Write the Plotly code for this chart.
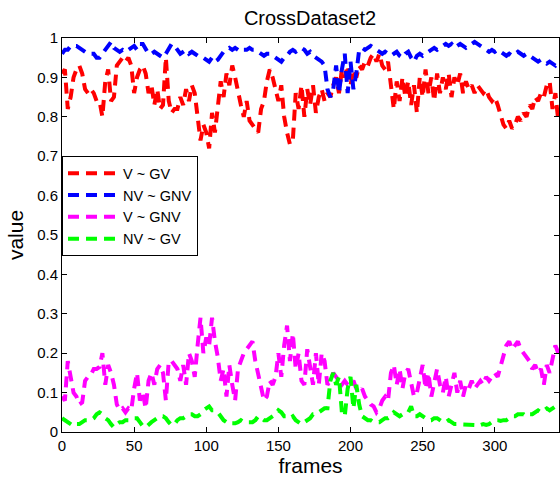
import plotly.graph_objects as go

# frame index (every second frame)
frames = list(range(0, 345, 2))

v_gv = [
    0.91, 0.92, 0.82, 0.85, 0.90, 0.92, 0.93, 0.91, 0.87, 0.86,
    0.87, 0.86, 0.84, 0.84, 0.80, 0.89, 0.92, 0.84, 0.85, 0.93,
    0.94, 0.95, 0.94, 0.95, 0.93, 0.86, 0.90, 0.92, 0.93, 0.91,
    0.86, 0.88, 0.83, 0.87, 0.82, 0.83, 0.95, 0.84, 0.81, 0.82,
    0.82, 0.85, 0.83, 0.87, 0.84, 0.88, 0.86, 0.80, 0.74, 0.78,
    0.76, 0.72, 0.81, 0.76, 0.83, 0.89, 0.85, 0.91, 0.88, 0.93,
    0.90, 0.86, 0.83, 0.80, 0.84, 0.79, 0.78, 0.77, 0.76, 0.82,
    0.84, 0.89, 0.92, 0.90, 0.87, 0.84, 0.88, 0.80, 0.76, 0.73,
    0.74, 0.86, 0.82, 0.88, 0.80, 0.87, 0.83, 0.88, 0.81, 0.85,
    0.87, 0.84, 0.86, 0.85, 0.88, 0.90, 0.86, 0.92, 0.90, 0.93,
    0.88, 0.92, 0.90, 0.93, 0.92, 0.94, 0.93, 0.95, 0.96, 0.94,
    0.96, 0.93, 0.92, 0.94, 0.88, 0.82, 0.89, 0.84, 0.90, 0.85,
    0.89, 0.83, 0.88, 0.81, 0.90, 0.85, 0.92, 0.86, 0.90, 0.84,
    0.91, 0.86, 0.90, 0.87, 0.91, 0.85, 0.90, 0.88, 0.91, 0.86,
    0.89, 0.87, 0.88, 0.86, 0.88, 0.87, 0.86, 0.87, 0.85, 0.84,
    0.85, 0.83, 0.80, 0.78, 0.77, 0.79, 0.77, 0.78, 0.80, 0.79,
    0.81, 0.80, 0.83, 0.82, 0.85, 0.84, 0.86, 0.85, 0.88, 0.89,
    0.82, 0.86, 0.79,
]

nv_gnv = [
    0.96, 0.97, 0.97, 0.98, 0.98, 0.98, 0.975, 0.97, 0.965, 0.96,
    0.96, 0.96, 0.95, 0.95, 0.96, 0.97, 0.98, 0.99, 0.975, 0.97,
    0.965, 0.97, 0.965, 0.97, 0.975, 0.98, 0.97, 0.985, 0.985, 0.97,
    0.96, 0.96, 0.965, 0.96, 0.955, 0.95, 0.96, 0.975, 0.985, 0.98,
    0.97, 0.96, 0.965, 0.97, 0.96, 0.965, 0.96, 0.955, 0.955, 0.95,
    0.945, 0.94, 0.95, 0.94, 0.945, 0.955, 0.965, 0.97, 0.975, 0.97,
    0.975, 0.97, 0.965, 0.97, 0.97, 0.975, 0.97, 0.97, 0.965, 0.96,
    0.955, 0.96, 0.96, 0.955, 0.95, 0.945, 0.94, 0.95, 0.955, 0.965,
    0.97, 0.965, 0.97, 0.975, 0.97, 0.96, 0.965, 0.955, 0.95, 0.945,
    0.94, 0.93, 0.87, 0.85, 0.87, 0.93, 0.86, 0.92, 0.96, 0.86,
    0.94, 0.87, 0.91, 0.97, 0.975, 0.97, 0.975, 0.98, 0.975, 0.97,
    0.965, 0.96, 0.965, 0.96, 0.955, 0.96, 0.965, 0.955, 0.95, 0.96,
    0.965, 0.95, 0.94, 0.955, 0.96, 0.955, 0.96, 0.965, 0.97, 0.975,
    0.97, 0.975, 0.98, 0.985, 0.98, 0.985, 0.975, 0.98, 0.985, 0.98,
    0.975, 0.98, 0.985, 0.99, 0.985, 0.98, 0.975, 0.97, 0.965, 0.97,
    0.965, 0.97, 0.965, 0.96, 0.955, 0.96, 0.955, 0.96, 0.965, 0.96,
    0.955, 0.96, 0.955, 0.95, 0.945, 0.94, 0.945, 0.94, 0.935, 0.94,
    0.935, 0.93, 0.94,
]

v_gnv = [
    0.09, 0.08, 0.18, 0.14, 0.10, 0.09, 0.07, 0.075, 0.13, 0.14,
    0.145, 0.16, 0.16, 0.165, 0.20, 0.12, 0.17, 0.15, 0.12, 0.07,
    0.055, 0.06, 0.05, 0.06, 0.055, 0.11, 0.15, 0.08, 0.10, 0.06,
    0.13, 0.15, 0.12, 0.16, 0.17, 0.15, 0.08, 0.18, 0.18, 0.17,
    0.16, 0.13, 0.17, 0.12, 0.20, 0.18, 0.14, 0.22, 0.29, 0.20,
    0.24, 0.22, 0.29, 0.23, 0.19, 0.13, 0.16, 0.09, 0.17, 0.12,
    0.08, 0.16, 0.18, 0.20, 0.21, 0.22, 0.23, 0.18, 0.15, 0.12,
    0.08, 0.09, 0.13, 0.12, 0.14, 0.20, 0.14, 0.22, 0.27, 0.18,
    0.25, 0.16, 0.20, 0.13, 0.12, 0.21, 0.17, 0.12, 0.20, 0.12,
    0.20, 0.18, 0.12, 0.13, 0.15, 0.14, 0.13, 0.12, 0.13, 0.12,
    0.12, 0.13, 0.11, 0.10, 0.11, 0.09, 0.08, 0.07, 0.065, 0.05,
    0.06, 0.08, 0.09, 0.08, 0.15, 0.17, 0.12, 0.16, 0.11, 0.15,
    0.16, 0.12, 0.09, 0.10, 0.14, 0.17, 0.11, 0.15, 0.09, 0.13,
    0.16, 0.12, 0.10, 0.14, 0.09, 0.12, 0.15, 0.10, 0.13, 0.09,
    0.12, 0.11, 0.13, 0.11, 0.12, 0.13, 0.12, 0.14, 0.13, 0.14,
    0.15, 0.14, 0.17, 0.20, 0.22, 0.23, 0.21, 0.22, 0.23, 0.21,
    0.20, 0.19, 0.18, 0.16, 0.17, 0.15, 0.16, 0.12, 0.17, 0.15,
    0.19, 0.22, 0.20,
]

nv_gv = [
    0.035, 0.03, 0.025, 0.02, 0.015, 0.02, 0.02, 0.025, 0.03, 0.03,
    0.03, 0.035, 0.045, 0.05, 0.045, 0.035, 0.03, 0.02, 0.012, 0.02,
    0.025, 0.025, 0.03, 0.03, 0.035, 0.035, 0.035, 0.025, 0.015, 0.012,
    0.02, 0.025, 0.03, 0.035, 0.04, 0.04, 0.035, 0.025, 0.017, 0.02,
    0.03, 0.035, 0.035, 0.04, 0.045, 0.045, 0.04, 0.04, 0.045, 0.055,
    0.06, 0.065, 0.055, 0.055, 0.05, 0.04, 0.03, 0.025, 0.02, 0.022,
    0.022, 0.025, 0.03, 0.025, 0.025, 0.025, 0.025, 0.03, 0.04, 0.035,
    0.03, 0.03, 0.035, 0.04, 0.045, 0.055, 0.05, 0.04, 0.04, 0.035,
    0.04, 0.03, 0.025, 0.02, 0.025, 0.03, 0.035, 0.045, 0.045, 0.05,
    0.055, 0.06, 0.06, 0.13, 0.15, 0.12, 0.14, 0.05, 0.04, 0.11,
    0.14, 0.06, 0.12, 0.07, 0.04, 0.035, 0.03, 0.03, 0.025, 0.025,
    0.025, 0.03, 0.035, 0.035, 0.04, 0.05, 0.045, 0.04, 0.045, 0.045,
    0.05, 0.065, 0.04, 0.04, 0.045, 0.04, 0.035, 0.03, 0.03, 0.035,
    0.035, 0.03, 0.025, 0.025, 0.03, 0.025, 0.02, 0.02, 0.02, 0.02,
    0.018, 0.018, 0.02, 0.018, 0.015, 0.018, 0.02, 0.018, 0.02, 0.025,
    0.03, 0.03, 0.028, 0.03, 0.03, 0.035, 0.04, 0.04, 0.045, 0.045,
    0.045, 0.04, 0.045, 0.045, 0.05, 0.055, 0.05, 0.055, 0.06, 0.055,
    0.06, 0.065, 0.07,
]

series = [
    ("V ~ GV", v_gv, "#ff0000"),
    ("NV ~ GNV", nv_gnv, "#0000ff"),
    ("V ~ GNV", v_gnv, "#ff00ff"),
    ("NV ~ GV", nv_gv, "#00ff00"),
]

x_ticks = [0, 50, 100, 150, 200, 250, 300]
y_ticks = [0, 0.1, 0.2, 0.3, 0.4, 0.5, 0.6, 0.7, 0.8, 0.9, 1]
y_tick_text = ["0", "0.1", "0.2", "0.3", "0.4", "0.5", "0.6", "0.7", "0.8", "0.9", "1"]

FONT = "Liberation Sans, Arial, Helvetica, sans-serif"

fig = go.Figure()
for name, vals, color in series:
    fig.add_trace(go.Scatter(
        x=frames, y=vals, name=name, mode="lines",
        line=dict(color=color, width=4, dash="11px,7px"),
    ))

axis_common = dict(
    showline=True, linecolor="black", linewidth=1,
    mirror="ticks", ticks="inside", ticklen=5, tickcolor="black",
    showgrid=False, zeroline=False,
    tickfont=dict(family=FONT, size=15, color="black"),
)

fig.update_layout(
    width=560, height=477,
    margin=dict(l=62, r=1, t=38, b=45),
    paper_bgcolor="white", plot_bgcolor="white",
    title=dict(text="CrossDataset2", x=0.5536, xanchor="center", y=0.962, yanchor="middle",
               font=dict(family=FONT, size=20, color="black")),
    xaxis=dict(range=[0, 344.5], tickvals=x_ticks,
               title=dict(text="frames", font=dict(family=FONT, size=21, color="black"), standoff=3),
               **axis_common),
    yaxis=dict(range=[0, 1], tickvals=y_ticks, ticktext=y_tick_text,
               title=dict(text="value", font=dict(family=FONT, size=21, color="black"), standoff=7),
               **axis_common),
    legend=dict(x=0, y=0.7, xanchor="left", yanchor="top",
                bgcolor="white", bordercolor="black", borderwidth=1,
                font=dict(family=FONT, size=14.5, color="black"),
                itemwidth=50, tracegroupgap=0),
    showlegend=True,
)

fig.write_html("out.html")
